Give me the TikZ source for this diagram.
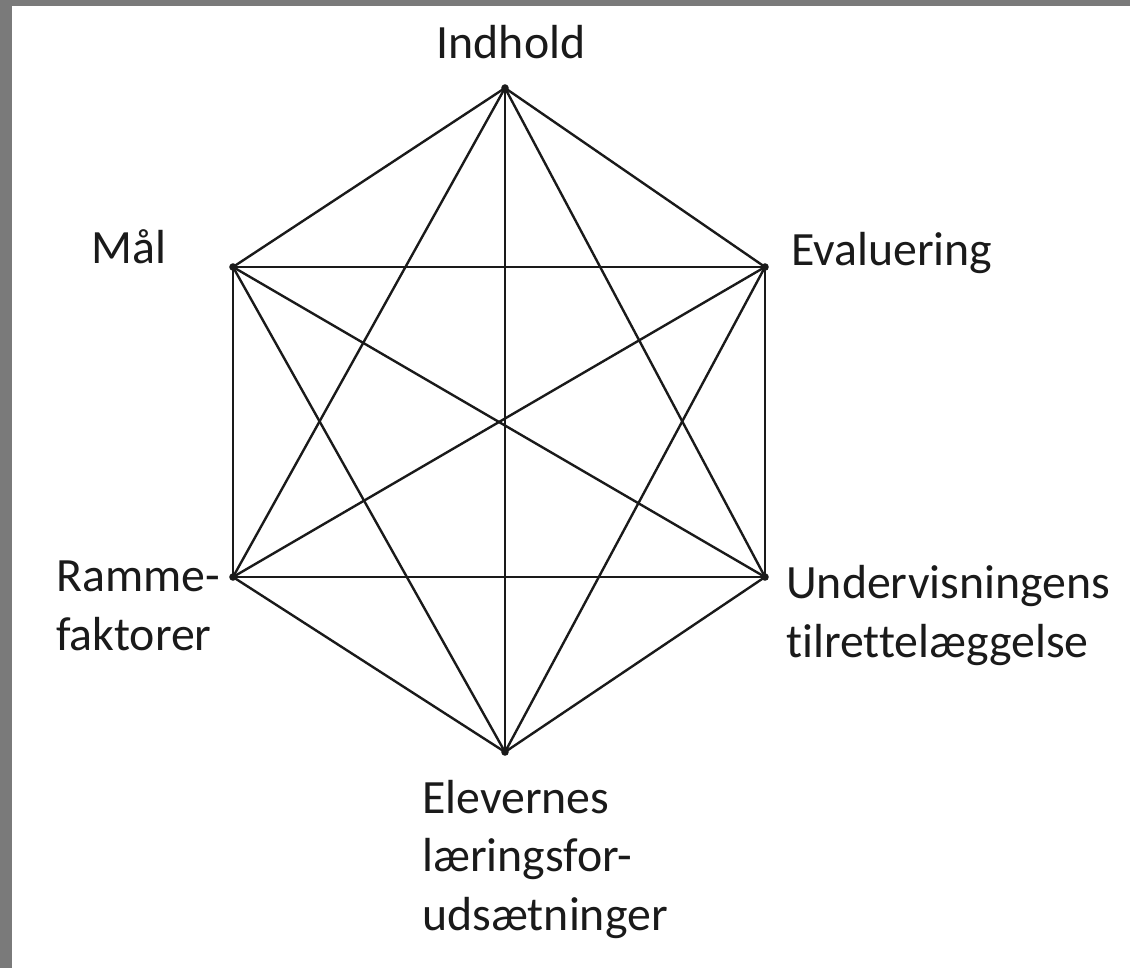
\documentclass[tikz,border=0pt]{standalone}
\usepackage{fontspec}
\setmainfont[Ligatures=NoCommon]{Carlito}
\usepackage{xcolor}
\usetikzlibrary{calc}
\definecolor{frame}{HTML}{7A7A7A}
\definecolor{ink}{HTML}{1A1A1A}
\tikzset{
  edge/.style={draw=ink, line width=1.7pt},
  vertex/.style={circle, fill=ink, inner sep=1.9pt},
  lab/.style={text=ink, font=\fontsize{34}{41.5}\selectfont, inner sep=0pt, align=left},
}
\begin{document}
\begin{tikzpicture}[x=0.025cm, y=-0.025cm]
  % frame and page
  \useasboundingbox (0,0) rectangle (1130,968);
  \fill[frame] (0,0) rectangle (1130,968);
  \fill[white] (12,6) rectangle (1130,968);

  % the six corners
  \coordinate (indhold) at (505,88);
  \coordinate (maal) at (233,267);
  \coordinate (evaluering) at (765,267);
  \coordinate (ramme) at (233,577);
  \coordinate (undervisning) at (765,577);
  \coordinate (elever) at (505,752);

  % every corner joined to every other
  \foreach \a/\b in {indhold/maal, indhold/evaluering, indhold/ramme, indhold/undervisning, indhold/elever,
                     maal/evaluering, maal/ramme, maal/undervisning, maal/elever,
                     evaluering/ramme, evaluering/undervisning, evaluering/elever,
                     ramme/undervisning, ramme/elever, undervisning/elever}
    \draw[edge] (\a)--(\b);

  \foreach \v in {indhold,maal,evaluering,ramme,undervisning,elever}
    \node[vertex] at (\v) {};

  % labels (base = baseline of the last line)
  \node[lab, anchor=base] (tIndhold) at (511,58) {Indhold};
  \node[lab, anchor=base west] (tMaal) at (91,263) {Mål};
  \node[lab, anchor=base west] (tEvaluering) at (791,265) {Evaluering};
  \node[lab, anchor=base west] (tRamme) at (56,650) {Ramme-\\faktorer};
  \node[lab, anchor=base west] (tUndervisning) at (786,657) {Undervisningens\\tilrettelæggelse};
  \node[lab, anchor=base west] (tElever) at (422,930) {Elevernes\\læringsfor-\\udsætninger};
\end{tikzpicture}
\end{document}
